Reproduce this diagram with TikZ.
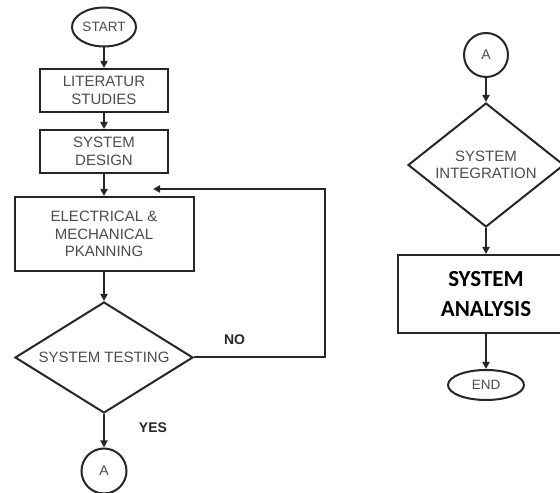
\documentclass[tikz,border=0pt]{standalone}
\usepackage{fontspec}
\setmainfont{Liberation Sans}
\newfontfamily\calibrifont{Carlito}
\usetikzlibrary{shapes.geometric,arrows.meta}
\tikzset{process style/.style={
		draw=black!85,
		line width=2pt,
		fill=white,
		text=black!70,
		rectangle,
		align=center,
		inner sep=0pt,
		font=\fontsize{15}{17.5}\selectfont,
	},
	decision style/.style={
		draw=black!85,
		line width=2pt,
		fill=white,
		text=black!70,
		diamond,
		aspect=1.4,
		align=center,
		inner sep=0pt,
		font=\fontsize{15}{17.5}\selectfont,
	},
	terminal style/.style={
		draw=black!85,
		line width=2pt,
		fill=white,
		text=black!70,
		ellipse,
		inner sep=0pt,
		font=\fontsize{13.5}{15}\selectfont,
	},
	connector style/.style={
		draw=black!85,
		line width=2pt,
		fill=white,
		text=black!70,
		circle,
		minimum size=44pt,
		inner sep=0pt,
		font=\fontsize{14}{15}\selectfont,
	},
	edge style/.style={
		#1,
		text=black!85,
		font=\bfseries\fontsize{14}{16}\selectfont,
	}
}

\begin{document}
\begin{tikzpicture}[node distance=62pt, line width=2pt, draw=black!85, >={Triangle[length=7pt,width=7pt]}]
	\useasboundingbox (0,0) rectangle (560pt,493pt);
	\clip (0,0) rectangle (560pt,493pt);
	
	% left column
	\node[terminal style, minimum width=64pt, minimum height=39pt] (Start) at (104pt,466pt) {START};
	
	\node[process style, below of=Start, yshift=-1.5pt, minimum width=128pt, minimum height=43pt] (Literatur) {LITERATUR\\STUDIES}
	edge [<-] (Start);
	
	\node[process style, below of=Literatur, yshift=1pt, minimum width=128pt, minimum height=43pt] (Design) {SYSTEM\\DESIGN}
	edge [<-] (Literatur);
	
	\node[process style, below of=Design, yshift=-20.5pt, minimum width=179pt, minimum height=74pt] (Planning) {ELECTRICAL \&\\MECHANICAL\\PKANNING}
	edge [<-] (Design);
	
	\node[decision style, below of=Planning, yshift=-61.5pt, minimum width=178pt, minimum height=111pt] (Testing) {SYSTEM TESTING}
	edge [<-] (Planning);
	
	\node[connector style, below of=Testing, yshift=-51.5pt, minimum size=45pt] (ConnA) {A}
	edge [<-] node[edge style, pos=0.58, xshift=49pt] (Yes) {YES} (Testing);
	
	% feedback loop
	\coordinate (LoopEnd) at (153pt,304pt);
	\draw[->] (Testing.east) -- node[edge style, pos=0.31, yshift=18pt] (No) {NO} (325pt,135.5pt) |- (LoopEnd);
	
	% right column
	\node[connector style, right of=Start, xshift=320pt, yshift=-28pt] (ConnB) {A};
	
	\node[decision style, below of=ConnB, yshift=-48pt, minimum width=156pt, minimum height=124pt] (Integration) {SYSTEM\\INTEGRATION}
	edge [<-] (ConnB);
	
	\node[process style, below of=Integration, yshift=-67pt, minimum width=176pt, minimum height=78pt, text=black, font=\calibrifont\bfseries\fontsize{23}{30}\selectfont] (Analysis) {SYSTEM\\ANALYSIS}
	edge [<-] (Integration);
	
	\node[terminal style, below of=Analysis, yshift=-29pt, minimum width=76pt, minimum height=30pt] (End) {END}
	edge [<-] (Analysis);
\end{tikzpicture}
\end{document}
